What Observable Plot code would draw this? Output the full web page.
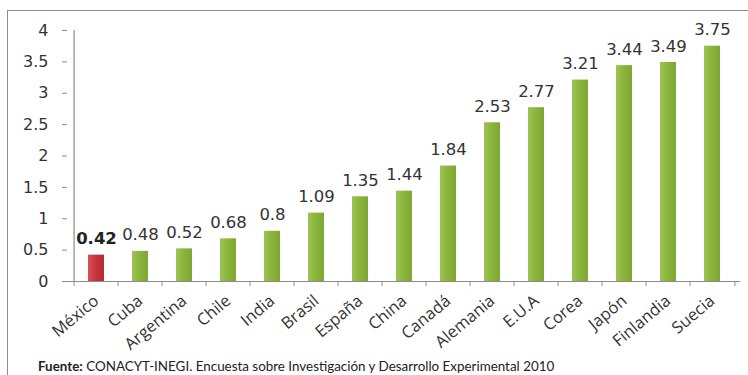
<!DOCTYPE html>
<html><head><meta charset="utf-8">
<script src="https://cdn.jsdelivr.net/npm/d3@7"></script>
<script src="https://cdn.jsdelivr.net/npm/@observablehq/plot@0.6"></script>
<style>
body{margin:0;background:#fff}
#wrap{position:relative;width:748px;height:375px;overflow:hidden;background:#fff}
#border{position:absolute;left:7px;top:10px;width:760px;height:400px;border-left:1.5px solid #8c8c8c;border-top:1.5px solid #8c8c8c}
#chart{position:absolute;left:0;top:0}
#cap{position:absolute;left:38px;top:358px;font:13.4px Lato, sans-serif;color:#222;white-space:nowrap}
</style></head><body>
<div id="wrap"><div id="border"></div><div id="chart"></div><div id="cap"><b>Fuente:</b> CONACYT-INEGI. Encuesta sobre Investigación y Desarrollo Experimental 2010</div></div>
<script>
const paises = ["México","Cuba","Argentina","Chile","India","Brasil","España","China","Canadá","Alemania","E.U.A","Corea","Japón","Finlandia","Suecia"];
const gasto = [0.42,0.48,0.52,0.68,0.8,1.09,1.35,1.44,1.84,2.53,2.77,3.21,3.44,3.49,3.75];
const yTicks = [0,0.5,1,1.5,2,2.5,3,3.5,4];
const resaltado = "México";

const data = paises.map((p, i) => ({pais: p, valor: gasto[i]}));
const W = 748, H = 355, ML = 67, MR = 8, MT = 30, MB = 74;
const step = (W - ML - MR) / paises.length;
const axisColor = "#8c8c8c";

const plot = Plot.plot({
  width: W, height: H,
  marginLeft: ML, marginRight: MR, marginTop: MT, marginBottom: MB,
  style: {fontFamily: "DejaVu Sans, sans-serif", fontSize: "16px", color: "#333", background: "transparent"},
  x: {domain: paises, paddingInner: 0.64, paddingOuter: 0.32, label: null},
  y: {domain: [0, 4], label: null},
  marks: [
    Plot.barY(data, {x: "pais", y: "valor", fill: d => d.pais === resaltado ? "rojo" : "verde", className: "barras"}),
    Plot.ruleY([0], {stroke: axisColor, strokeWidth: 1.2}),
    Plot.ruleX([paises[0]], {x: d => d, y1: 0, y2: 4, dx: -step / 2, stroke: axisColor, strokeWidth: 1.2}),
    Plot.ruleX(paises, {x: d => d, y1: 0, y2: -0.08, dx: -step / 2, stroke: axisColor}),
    Plot.ruleX([paises[paises.length - 1]], {x: d => d, y1: 0, y2: -0.08, dx: step / 2, stroke: axisColor}),
    Plot.axisY({ticks: yTicks, tickFormat: d => String(d), tickSize: 5, tickPadding: 14, stroke: axisColor, fontSize: 16, fill: "#333"}),
    Plot.axisX({tickRotate: -40, tickSize: 0, tickPadding: 17, fontSize: 16.5, fontFamily: "Open Sans, sans-serif", fill: "#333"}),
    Plot.text(data.filter(d => d.pais !== resaltado), {x: "pais", y: "valor", text: d => String(d.valor), lineAnchor: "bottom", dy: -11, fontSize: 16.5, fill: "#333"}),
    Plot.text(data.filter(d => d.pais === resaltado), {x: "pais", y: "valor", text: d => String(d.valor), lineAnchor: "bottom", dy: -11, fontSize: 16.5, fontWeight: "bold", fill: "#222"})
  ],
  color: {type: "categorical", domain: ["verde", "rojo"], range: ["#8bb43c", "#c8343c"]}
});

const svg = d3.select(plot);
const defs = svg.insert("defs", ":first-child");
function grad(id, stops) {
  const g = defs.append("linearGradient").attr("id", id).attr("x1", "0").attr("x2", "1").attr("y1", "0").attr("y2", "0");
  stops.forEach(([o, c]) => g.append("stop").attr("offset", o).attr("stop-color", c));
}
grad("gVerde", [["0", "#9cc457"], ["0.5", "#8ab43b"], ["1", "#7ea732"]]);
grad("gRojo", [["0", "#d8505a"], ["0.5", "#c8323b"], ["1", "#b52a33"]]);
svg.selectAll("g.barras rect").each(function() {
  const f = d3.select(this).attr("fill");
  d3.select(this).attr("fill", f === "#c8343c" ? "url(#gRojo)" : "url(#gVerde)");
});
document.getElementById("chart").appendChild(plot);
</script>
</body></html>
